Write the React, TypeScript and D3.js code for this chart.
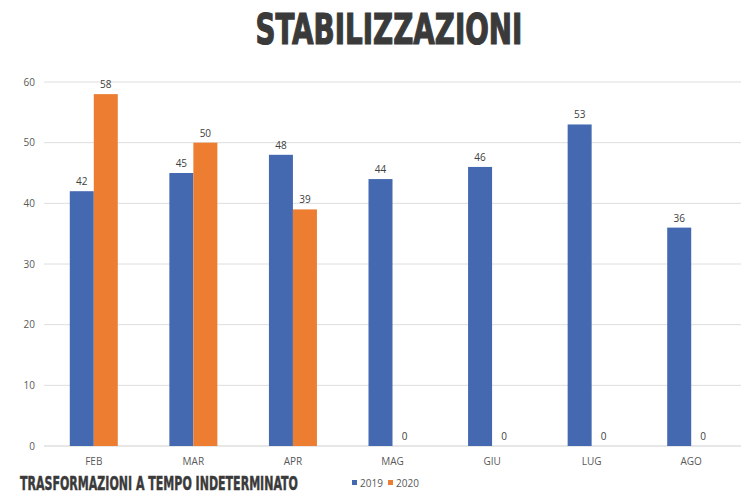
import React, { useLayoutEffect, useRef } from "react";
import * as d3 from "d3";

const categories = ["FEB", "MAR", "APR", "MAG", "GIU", "LUG", "AGO"];
const series2019 = [42, 45, 48, 44, 46, 53, 36];
const series2020 = [58, 50, 39, 0, 0, 0, 0];
const seriesNames = ["2019", "2020"];
const yTicks = [0, 10, 20, 30, 40, 50, 60];
const colors = ["#4569B1", "#ED7D31"];

function FitText({ x, y, width, anchor, size, stroke, children }: any) {
  const ref = useRef<SVGTextElement>(null);
  useLayoutEffect(() => {
    const el = ref.current;
    if (!el) return;
    const w = el.getComputedTextLength();
    const s = w > 0 ? width / w : 1;
    const x0 = anchor === "middle" ? x - width / 2 : x;
    d3.select(el).attr("transform", `translate(${x0},${y}) scale(${s},1)`);
  }, [x, y, width, anchor]);
  return (
    <text ref={ref} x={0} y={0} textAnchor="start"
      fontFamily="'DejaVu Sans Condensed', 'Liberation Sans Narrow', sans-serif"
      fontWeight="bold" fontSize={size} fill="#3a3a3a" stroke="#3a3a3a" strokeWidth={stroke}>{children}</text>
  );
}

export default function App() {
  const W = 750, H = 500;
  const left = 44, right = 741, top = 82, bottom = 446;
  const x = d3.scaleBand<string>().domain(categories).range([left, right]);
  const y = d3.scaleLinear().domain([0, 60]).range([bottom, top]);
  const barW = 24;
  const data = [series2019, series2020];

  return (
    <svg width={W} height={H} style={{ position: "absolute", left: 0, top: 0, background: "#fff" }}
      fontFamily="'Open Sans', 'Liberation Sans', sans-serif">
      <rect width={W} height={H} fill="#fff" />
      <FitText x={389} y={44} width={267} anchor="middle" size={42} stroke={1.2}>STABILIZZAZIONI</FitText>
      {yTicks.map((t) => (
        <g key={t}>
          <line x1={left} x2={right} y1={y(t)} y2={y(t)} stroke={t === 0 ? "#cfcfcf" : "#dedede"} strokeWidth={1} />
          <text x={35} y={y(t) + 3.5} textAnchor="end" fontSize={10} fill="#595959">{t}</text>
        </g>
      ))}
      {categories.map((c, i) => {
        const cx = (x(c) as number) + x.bandwidth() / 2;
        return (
          <g key={c}>
            {data.map((s, j) => {
              const bx = cx - barW + j * barW;
              const v = s[i];
              return (
                <g key={j}>
                  {v > 0 && <rect x={bx} y={y(v)} width={barW} height={bottom - y(v)} fill={colors[j]} />}
                  <text x={bx + barW / 2} y={y(v) - 6} textAnchor="middle" fontSize={10} fill="#404040">{v}</text>
                </g>
              );
            })}
            <text x={cx} y={465} textAnchor="middle" fontSize={10} fill="#595959">{c}</text>
          </g>
        );
      })}
      {seriesNames.map((n, j) => (
        <g key={n} transform={`translate(${352 + j * 36},480)`}>
          <rect x={0} y={0} width={5} height={5} fill={colors[j]} />
          <text x={8} y={7} fontSize={10} fill="#595959">{n}</text>
        </g>
      ))}
      <FitText x={20} y={490} width={278} anchor="start" size={20} stroke={0.5}>TRASFORMAZIONI A TEMPO INDETERMINATO</FitText>
    </svg>
  );
}
